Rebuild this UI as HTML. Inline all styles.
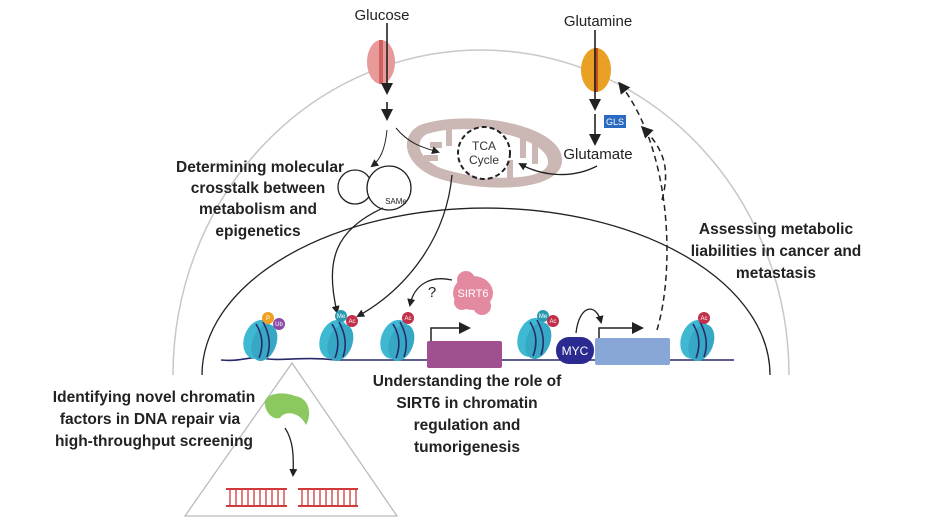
<!DOCTYPE html>
<html><head><meta charset="utf-8"><style>
body{margin:0;background:#fff}
svg{display:block;font-family:"Liberation Sans",sans-serif}
.b{font-weight:bold;font-size:15.5px;fill:#222}
</style></head><body>
<svg width="925" height="520" viewBox="0 0 925 520">
<defs>
<marker id="ah" markerWidth="8" markerHeight="8" refX="6" refY="4" orient="auto" markerUnits="userSpaceOnUse"><path d="M0,0 L8,4 L0,8 Z" fill="#222"/></marker>
<marker id="ab" markerWidth="12" markerHeight="12" refX="9" refY="6" orient="auto" markerUnits="userSpaceOnUse"><path d="M0,0 L12,6 L0,12 Z" fill="#222"/></marker>
<g id="nuc">
<ellipse cx="-2" cy="0" rx="14" ry="20" fill="#3fb8d2" transform="rotate(20)"/>
<ellipse cx="5" cy="1" rx="12" ry="19" fill="#36a8c6" transform="rotate(20)"/>
<path d="M-4,-16 Q6,0 -1,18 M3,-18 Q13,0 7,17" stroke="#2a2a6a" stroke-width="1.6" fill="none"/>
</g>
</defs>
<path d="M173 375 A308 325 0 0 1 789 375" fill="none" stroke="#c8c8c8" stroke-width="1.5"/>
<path d="M202 375 A284 167 0 0 1 770 375" fill="none" stroke="#222" stroke-width="1.3"/>
<path d="M221 360 C 240 362, 250 356, 262 358 C 280 362, 300 356, 336 360 H734" fill="none" stroke="#2a2a6a" stroke-width="1.6"/>
<path d="M292 363 L185 516 L397 516 Z" fill="none" stroke="#bbb" stroke-width="1.3"/>
<ellipse cx="381" cy="62" rx="14" ry="22" fill="#e89a9a"/>
<rect x="379" y="40" width="4" height="44" fill="#d06060"/>
<text x="382" y="20" font-size="15" fill="#222" text-anchor="middle">Glucose</text>
<path d="M387 23 V92" stroke="#222" stroke-width="1.6" marker-end="url(#ab)"/>
<path d="M387 102 V118" stroke="#222" stroke-width="1.6" marker-end="url(#ab)"/>
<ellipse cx="596" cy="70" rx="15" ry="22" fill="#e8a025"/>
<rect x="594" y="48" width="4" height="44" fill="#c05020"/>
<text x="598" y="26" font-size="15" fill="#222" text-anchor="middle">Glutamine</text>
<path d="M595 30 V108" stroke="#222" stroke-width="1.6" marker-end="url(#ab)"/>
<path d="M595 114 V143" stroke="#222" stroke-width="1.6" marker-end="url(#ab)"/>
<rect x="604" y="115" width="22" height="13" fill="#2a6ac0"/>
<text x="615" y="125" font-size="9" fill="#fff" text-anchor="middle">GLS</text>
<text x="598" y="159" font-size="15" fill="#222" text-anchor="middle">Glutamate</text>
<path d="M420 125 C 470 108, 565 125, 562 162 C 558 195, 470 192, 432 176 C 402 162, 400 135, 420 125 Z" fill="#cbb8b4"/>
<path d="M427 134 C 470 120, 550 138, 548 163 C 546 184, 470 180, 438 167 C 418 157, 414 141, 427 134 Z" fill="#fff"/>
<g fill="#cbb8b4"><rect x="430" y="142" width="12" height="6"/><rect x="424" y="155" width="14" height="6"/><rect x="446" y="124" width="6" height="22"/><rect x="520" y="132" width="6" height="26"/><rect x="532" y="140" width="6" height="24"/><rect x="507" y="160" width="6" height="20"/></g>
<circle cx="484" cy="153" r="26" fill="#fff" stroke="#222" stroke-width="2" stroke-dasharray="5 3"/>
<text x="484" y="150" font-size="12" fill="#333" text-anchor="middle">TCA</text>
<text x="484" y="164" font-size="12" fill="#333" text-anchor="middle">Cycle</text>
<path d="M597 166 C 570 180, 540 175, 520 164" fill="none" stroke="#222" stroke-width="1.3" marker-end="url(#ah)"/>
<path d="M396 128 C 410 145, 425 148, 438 152" fill="none" stroke="#222" stroke-width="1" marker-end="url(#ah)"/>
<path d="M387 130 C 385 150, 380 160, 372 166" fill="none" stroke="#222" stroke-width="1" marker-end="url(#ah)"/>
<circle cx="355" cy="187" r="17" fill="#fff" stroke="#222" stroke-width="1.3"/>
<circle cx="389" cy="188" r="22" fill="#fff" stroke="#222" stroke-width="1.3"/>
<text x="396" y="204" font-size="8" fill="#222" text-anchor="middle">SAMe</text>
<path d="M383 208 C 335 230, 325 260, 337 312" fill="none" stroke="#222" stroke-width="1.3" marker-end="url(#ah)"/>
<path d="M452 175 C 446 240, 405 290, 358 316" fill="none" stroke="#222" stroke-width="1.3" marker-end="url(#ah)"/>
<path d="M657 330 C 675 270, 672 150, 620 84" fill="none" stroke="#222" stroke-width="1.5" stroke-dasharray="6 4" marker-end="url(#ab)"/>
<path d="M662 200 C 670 170, 665 150, 643 128" fill="none" stroke="#222" stroke-width="1.5" stroke-dasharray="6 4" marker-end="url(#ab)"/>
<use href="#nuc" x="260" y="340"/>
<use href="#nuc" x="336" y="340"/>
<use href="#nuc" x="397" y="340"/>
<use href="#nuc" x="534" y="338"/>
<use href="#nuc" x="697" y="340"/>
<g font-size="6" fill="#fff" text-anchor="middle">
<circle cx="268" cy="318" r="6" fill="#f0a020"/><text x="268" y="320">P</text>
<circle cx="279" cy="324" r="6" fill="#8a4aa8"/><text x="279" y="326">Ub</text>
<circle cx="341" cy="316" r="6" fill="#2a9ab0"/><text x="341" y="318">Me</text>
<circle cx="352" cy="321" r="6" fill="#c0304a"/><text x="352" y="323">Ac</text>
<circle cx="408" cy="318" r="6" fill="#c0304a"/><text x="408" y="320">Ac</text>
<circle cx="543" cy="316" r="6" fill="#2a9ab0"/><text x="543" y="318">Me</text>
<circle cx="553" cy="321" r="6" fill="#c0304a"/><text x="553" y="323">Ac</text>
<circle cx="704" cy="318" r="6" fill="#c0304a"/><text x="704" y="320">Ac</text>
</g>
<ellipse cx="473" cy="293" rx="20" ry="17" fill="#e48aa0"/>
<circle cx="466" cy="280" r="9" fill="#e48aa0"/><circle cx="482" cy="306" r="9" fill="#e48aa0"/><circle cx="462" cy="302" r="8" fill="#e48aa0"/>
<text x="473" y="297" font-size="11" fill="#fff" text-anchor="middle">SIRT6</text>
<text x="432" y="297" font-size="15" fill="#222" text-anchor="middle">?</text>
<path d="M452 280 C 430 275, 414 285, 410 305" fill="none" stroke="#222" stroke-width="1.3" marker-end="url(#ah)"/>
<rect x="427" y="341" width="75" height="27" rx="2" fill="#a0508e"/>
<path d="M431 341 V328 H468" fill="none" stroke="#222" stroke-width="1.5" marker-end="url(#ab)"/>
<rect x="595" y="338" width="75" height="27" rx="2" fill="#88a6d6"/>
<path d="M599 338 V328 H641" fill="none" stroke="#222" stroke-width="1.5" marker-end="url(#ab)"/>
<rect x="556" y="337" width="38" height="27" rx="13" fill="#2a2a90"/>
<text x="575" y="355" font-size="12" fill="#fff" text-anchor="middle">MYC</text>
<path d="M576 333 C 579 305, 596 302, 601 322" fill="none" stroke="#222" stroke-width="1.3" marker-end="url(#ah)"/>
<path d="M265 405 C 262 395, 280 390, 295 396 C 310 398, 312 415, 306 425 C 300 412, 285 410, 280 418 C 272 420, 266 412, 265 405 Z" fill="#8cc860"/>
<path d="M285 428 C 293 440, 294 455, 293 475" fill="none" stroke="#222" stroke-width="1.3" marker-end="url(#ah)"/>
<g stroke="#d03a3a" stroke-width="2">
<path d="M226 489 H287 M226 506 H287 M298 489 H358 M298 506 H358"/>
<path d="M230 489V506 M236 489V506 M242 489V506 M248 489V506 M254 489V506 M260 489V506 M266 489V506 M272 489V506 M278 489V506 M284 489V506 M302 489V506 M308 489V506 M314 489V506 M320 489V506 M326 489V506 M332 489V506 M338 489V506 M344 489V506 M350 489V506 M356 489V506" stroke-width="1.3"/>
</g>
<text class="b" text-anchor="middle"><tspan x="260" y="172">Determining molecular</tspan><tspan x="258" y="193">crosstalk between</tspan><tspan x="258" y="214">metabolism and</tspan><tspan x="258" y="236">epigenetics</tspan></text>
<text class="b" text-anchor="middle"><tspan x="776" y="234">Assessing metabolic</tspan><tspan x="776" y="256">liabilities in cancer and</tspan><tspan x="776" y="278">metastasis</tspan></text>
<text class="b" text-anchor="middle"><tspan x="154" y="402">Identifying novel chromatin</tspan><tspan x="150" y="424">factors in DNA repair via</tspan><tspan x="154" y="446">high-throughput screening</tspan></text>
<text class="b" text-anchor="middle"><tspan x="467" y="386">Understanding the role of</tspan><tspan x="467" y="408">SIRT6 in chromatin</tspan><tspan x="467" y="430">regulation and</tspan><tspan x="467" y="452">tumorigenesis</tspan></text>
</svg>
</body></html>
